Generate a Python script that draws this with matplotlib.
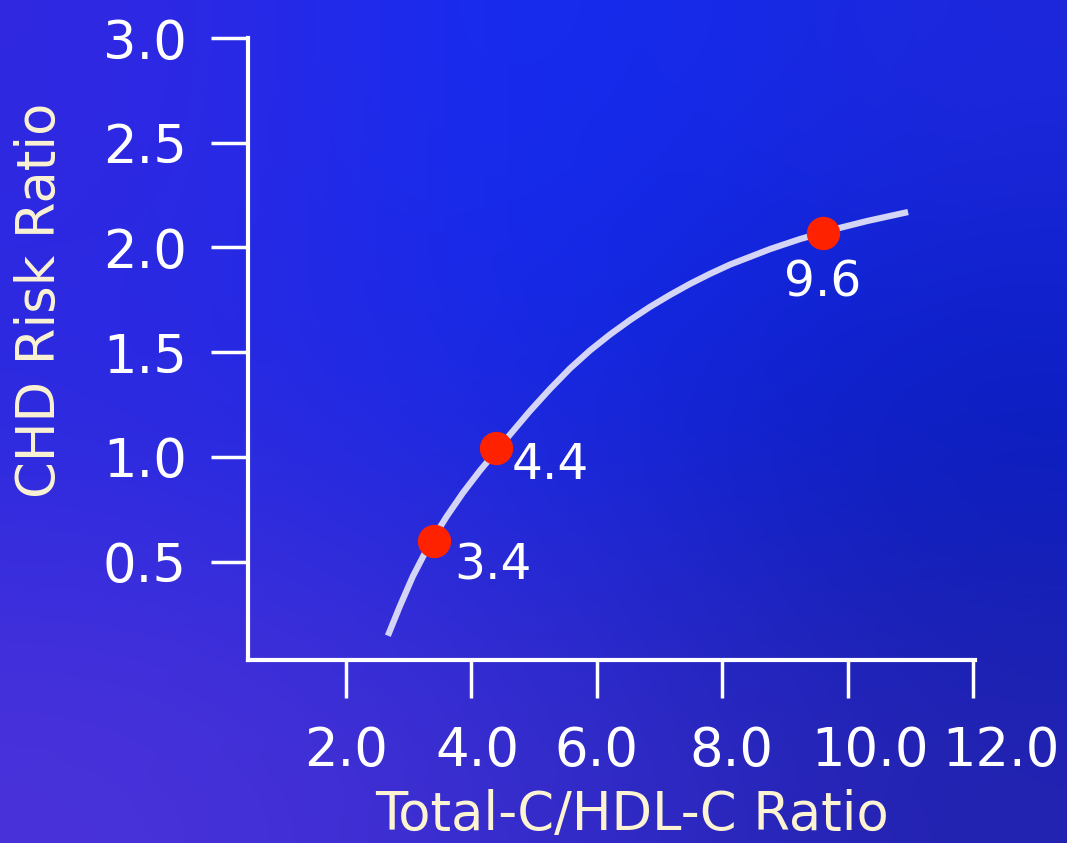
"""CHD risk ratio vs. total-C/HDL-C ratio, slide-style chart."""

import numpy as np
import matplotlib.pyplot as plt
import matplotlib.transforms as mtransforms

# curve traced through the risk relationship
curve_x = [2.670, 2.861, 3.069, 3.340, 3.611, 3.866, 4.137, 4.424, 4.616, 4.935,
           5.254, 5.573, 5.892, 6.211, 6.530, 6.848, 7.167, 7.486, 7.805, 8.124,
           8.762, 9.241, 9.751, 10.309, 10.963]
curve_y = [0.146, 0.287, 0.430, 0.587, 0.717, 0.828, 0.934, 1.037, 1.106, 1.219,
           1.324, 1.422, 1.508, 1.584, 1.653, 1.716, 1.773, 1.826, 1.874, 1.918,
           1.992, 2.040, 2.084, 2.126, 2.169]

# highlighted ratios and their risk ratios
point_x = [3.4, 4.4, 9.6]
point_y = [0.60, 1.04, 2.07]
point_labels = ["3.4", "4.4", "9.6"]
label_offsets = [(43, -18), (39, -12), (0, -36)]  # points

x_ticks = [2.0, 4.0, 6.0, 8.0, 10.0, 12.0]
y_ticks = [0.5, 1.0, 1.5, 2.0, 2.5, 3.0]
x_label_nudge = [0, 6, 0, 9, 22, 28]  # pixels, sideways shift of tick labels

WHITE = "#ffffff"
CREAM = "#fbf3d2"
LINE = "#d4d4f6"
RED = "#ff2200"

fig = plt.figure(figsize=(10.67, 8.43), dpi=100)

# background wash
bg = fig.add_axes([0, 0, 1, 1])
grid = np.array([
    [(50, 40, 225), (15, 45, 245), (30, 40, 220)],
    [(40, 42, 225), (22, 40, 228), (5, 28, 190)],
    [(75, 50, 218), (55, 45, 205), (35, 35, 175)],
], dtype=float) / 255
bg.imshow(grid, aspect="auto", interpolation="bicubic", extent=[0, 1, 0, 1])
bg.set_axis_off()

ax = fig.add_axes([248 / 1067, 1 - 660 / 843, (975 - 248) / 1067, (660 - 38) / 843])
ax.patch.set_alpha(0)

ax.plot(curve_x, curve_y, color=LINE, linewidth=4.5, solid_capstyle="butt",
        solid_joinstyle="round", zorder=2)
ax.plot(point_x, point_y, "o", color=RED, markersize=24, markeredgewidth=0, zorder=3)
for x, y, lab, off in zip(point_x, point_y, point_labels, label_offsets):
    ax.annotate(lab, (x, y), xytext=off, textcoords="offset points",
                ha="center", va="center", fontsize=35, color=WHITE)

ax.set_xlim(0.44, 12.03)
ax.set_ylim(0.03, 3.0)

for side in ("top", "right"):
    ax.spines[side].set_visible(False)
for side in ("left", "bottom"):
    ax.spines[side].set_color(WHITE)
    ax.spines[side].set_linewidth(3)

ax.set_xticks(x_ticks)
ax.set_xticklabels([f"{t:.1f}" for t in x_ticks])
ax.set_yticks(y_ticks)
ax.set_yticklabels([f"{t:.1f}" for t in y_ticks])
ax.tick_params(axis="both", direction="out", length=27, width=2.5, color=WHITE,
               labelcolor=WHITE, labelsize=38)
ax.tick_params(axis="x", pad=20)
ax.tick_params(axis="y", pad=17)

for lab, dx in zip(ax.get_xticklabels(), x_label_nudge):
    shift = mtransforms.ScaledTranslation(dx / 100, 0, fig.dpi_scale_trans)
    lab.set_transform(lab.get_transform() + shift)

fig.text(632 / 1067, 1 - 815 / 843, "Total-C/HDL-C Ratio", color=CREAM,
         fontsize=38, ha="center", va="center")
fig.text(40 / 1067, 1 - 300 / 843, "CHD Risk Ratio", color=CREAM,
         fontsize=38, ha="center", va="center", rotation=90)

fig.savefig("out.png", dpi=100)
